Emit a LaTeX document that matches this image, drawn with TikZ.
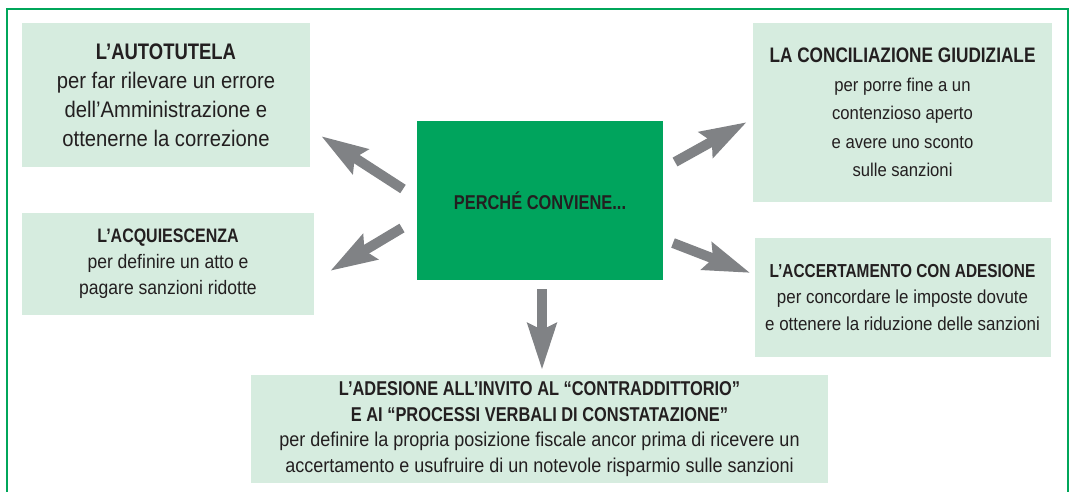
\documentclass[tikz,border=0pt]{standalone}
\usepackage{fontspec}
\setmainfont{Liberation Sans}[FakeStretch=0.9, BoldFeatures={FakeStretch=0.82}]
\usetikzlibrary{positioning,arrows.meta}
\definecolor{mint}{HTML}{D6ECDF}
\definecolor{leaf}{HTML}{00A45D}
\definecolor{rim}{HTML}{00A65A}
\definecolor{arrowgray}{HTML}{808285}
\definecolor{ink}{HTML}{231F20}
\tikzset{
  card/.style={fill=mint, text=ink, align=center, inner sep=0pt, outer sep=0pt},
  fat/.style={draw=arrowgray, line width=5pt,
              -{Stealth[length=23pt, width=14pt, inset=3pt]}},
}
\begin{document}
\begin{tikzpicture}[x=0.5pt, y=-0.5pt]
  \useasboundingbox (0,0) rectangle (1070,492);
  % open frame
  \draw[rim, line width=1.2pt] (7,492) -- (7,9) -- (1068,9) -- (1068,492);

  \node[card, fill=leaf, minimum width=123pt, minimum height=79.5pt,
        font=\fontsize{10}{12}\selectfont\bfseries] (centre) at (540,200.5) {PERCHÉ CONVIENE...};

  \node[card, minimum width=144pt, minimum height=72pt,
        font=\fontsize{11.25}{14.5}\selectfont] (auto) at (166,95)
    {\textbf{L'AUTOTUTELA}\\per far rilevare un errore\\dell'Amministrazione e\\ottenerne la correzione};
  \node[card, minimum width=146pt, minimum height=51pt,
        font=\fontsize{9.75}{13}\selectfont,
        below=23pt of auto.south west, anchor=north west] (acq)
    {\textbf{L'ACQUIESCENZA}\\per definire un atto e\\pagare sanzioni ridotte};
  \node[card, minimum width=149.5pt, minimum height=89.5pt,
        font=\fontsize{9.25}{14.3}\selectfont] (conc) at (902.5,112.5)
    {{\fontsize{10.5}{14.3}\selectfont\bfseries LA CONCILIAZIONE GIUDIZIALE}\\per porre fine a un\\contenzioso aperto\\e avere uno sconto\\sulle sanzioni};
  \node[card, minimum width=148pt, minimum height=59.5pt,
        font=\fontsize{9.4}{13.3}\selectfont, below=18pt of conc] (acc)
    {\textbf{L'ACCERTAMENTO CON ADESIONE}\\per concordare le imposte dovute\\e ottenere la riduzione delle sanzioni};
  \node[card, minimum width=288.5pt, minimum height=54pt,
        font=\fontsize{10}{12.8}\selectfont] (ades) at (539.5,429)
    {\textbf{L'ADESIONE ALL'INVITO AL “CONTRADDITTORIO”}\\
     \textbf{E AI “PROCESSI VERBALI DI CONSTATAZIONE”}\\
     per definire la propria posizione fiscale ancor prima di ricevere un\\
     accertamento e usufruire di un notevole risparmio sulle sanzioni};

  \draw[fat] ([shift={(-14,-11.5)}]centre.west) -- ([shift={(11,-31)}]auto.south east);
  \draw[fat] ([shift={(-15,27.5)}]centre.west) -- ([shift={(16,7)}]acq.east);
  \draw[fat] ([shift={(12,-38.5)}]centre.east) -- ([shift={(-6,9.5)}]conc.west);
  \draw[fat] ([shift={(10,42.5)}]centre.east) -- ([shift={(-4,-24.5)}]acc.west);
  \draw[fat] ([shift={(2,9)}]centre.south) -- ([shift={(2.5,-5)}]ades.north);
\end{tikzpicture}
\end{document}
